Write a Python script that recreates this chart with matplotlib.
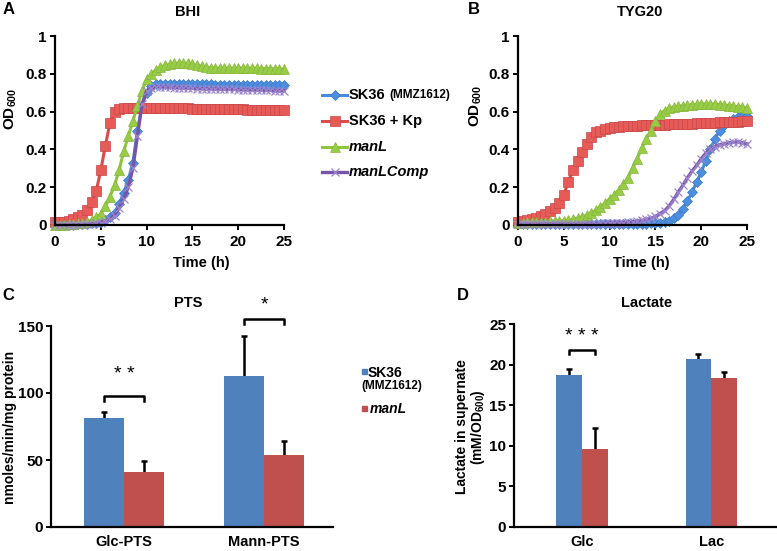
import matplotlib
matplotlib.use("Agg")
import matplotlib.pyplot as plt
import numpy as np
from matplotlib.lines import Line2D
from matplotlib.patches import Rectangle

plt.rcParams['font.family'] = ['Liberation Sans', 'DejaVu Sans']
plt.rcParams['font.weight'] = 'bold'
plt.rcParams['mathtext.fontset'] = 'custom'
plt.rcParams['mathtext.bf'] = 'Liberation Sans:bold'
plt.rcParams['mathtext.rm'] = 'Liberation Sans:bold'

W, H = 777, 551

# growth curves, one reading every 0.5 h
time_h = np.arange(0, 25.5, 0.5)

bhi_sk36 = [0.000, 0.000, 0.000, 0.001, 0.002, 0.003, 0.004, 0.006, 0.008, 0.012,
            0.018, 0.028, 0.042, 0.065, 0.110, 0.170, 0.240, 0.330, 0.500, 0.630,
            0.700, 0.735, 0.745, 0.746, 0.746, 0.746, 0.745, 0.745, 0.745, 0.745,
            0.745, 0.744, 0.744, 0.744, 0.744, 0.743, 0.743, 0.743, 0.743, 0.742,
            0.742, 0.742, 0.742, 0.741, 0.741, 0.741, 0.741, 0.740, 0.740, 0.740,
            0.740]
bhi_kp = [0.015, 0.015, 0.018, 0.022, 0.030, 0.040, 0.055, 0.080, 0.120, 0.180,
          0.290, 0.420, 0.540, 0.600, 0.615, 0.618, 0.620, 0.620, 0.620, 0.620,
          0.620, 0.620, 0.620, 0.619, 0.619, 0.618, 0.618, 0.618, 0.617, 0.617,
          0.616, 0.616, 0.615, 0.615, 0.615, 0.614, 0.614, 0.613, 0.613, 0.612,
          0.612, 0.612, 0.611, 0.611, 0.610, 0.610, 0.610, 0.609, 0.609, 0.608,
          0.608]
bhi_manl = [0.000, 0.000, 0.002, 0.003, 0.005, 0.008, 0.012, 0.018, 0.026, 0.040,
            0.060, 0.100, 0.150, 0.210, 0.290, 0.390, 0.470, 0.550, 0.630, 0.710,
            0.770, 0.800, 0.820, 0.835, 0.845, 0.850, 0.855, 0.857, 0.857, 0.855,
            0.850, 0.845, 0.840, 0.835, 0.832, 0.830, 0.830, 0.830, 0.830, 0.830,
            0.830, 0.830, 0.830, 0.830, 0.829, 0.828, 0.828, 0.827, 0.826, 0.825,
            0.824]
bhi_comp = [0.000, 0.000, 0.000, 0.000, 0.001, 0.002, 0.003, 0.004, 0.006, 0.009,
            0.013, 0.020, 0.030, 0.050, 0.090, 0.140, 0.200, 0.300, 0.470, 0.640,
            0.710, 0.725, 0.730, 0.730, 0.729, 0.728, 0.727, 0.726, 0.725, 0.724,
            0.723, 0.722, 0.722, 0.721, 0.720, 0.720, 0.719, 0.718, 0.718, 0.717,
            0.716, 0.716, 0.715, 0.714, 0.714, 0.713, 0.712, 0.712, 0.711, 0.710,
            0.710]

tyg_sk36 = [0.005, 0.005, 0.005, 0.005, 0.005, 0.005, 0.005, 0.005, 0.005, 0.005,
            0.005, 0.005, 0.005, 0.005, 0.005, 0.005, 0.005, 0.005, 0.005, 0.005,
            0.005, 0.006, 0.006, 0.006, 0.006, 0.006, 0.006, 0.007, 0.007, 0.008,
            0.008, 0.010, 0.014, 0.022, 0.035, 0.055, 0.085, 0.125, 0.175, 0.225,
            0.280, 0.340, 0.400, 0.455, 0.500, 0.530, 0.550, 0.562, 0.570, 0.575,
            0.578]
tyg_kp = [0.015, 0.020, 0.025, 0.030, 0.038, 0.048, 0.060, 0.075, 0.092, 0.115,
          0.160, 0.230, 0.290, 0.340, 0.385, 0.430, 0.465, 0.490, 0.500, 0.507,
          0.512, 0.516, 0.520, 0.522, 0.524, 0.525, 0.526, 0.527, 0.528, 0.529,
          0.530, 0.530, 0.531, 0.532, 0.533, 0.534, 0.535, 0.536, 0.537, 0.538,
          0.539, 0.540, 0.541, 0.542, 0.543, 0.544, 0.545, 0.546, 0.547, 0.548,
          0.550]
tyg_manl = [0.012, 0.013, 0.014, 0.015, 0.016, 0.017, 0.018, 0.019, 0.020, 0.021,
            0.023, 0.026, 0.030, 0.036, 0.043, 0.052, 0.063, 0.078, 0.095, 0.115,
            0.138, 0.160, 0.185, 0.215, 0.250, 0.300, 0.350, 0.405, 0.455, 0.500,
            0.550, 0.585, 0.605, 0.617, 0.624, 0.628, 0.631, 0.634, 0.636, 0.638,
            0.640, 0.640, 0.640, 0.639, 0.637, 0.635, 0.632, 0.629, 0.626, 0.623,
            0.620]
tyg_comp = [0.005, 0.005, 0.005, 0.005, 0.005, 0.005, 0.005, 0.005, 0.005, 0.005,
            0.005, 0.005, 0.005, 0.005, 0.005, 0.005, 0.005, 0.006, 0.008, 0.009,
            0.010, 0.011, 0.012, 0.013, 0.015, 0.017, 0.020, 0.024, 0.030, 0.035,
            0.045, 0.060, 0.075, 0.100, 0.135, 0.175, 0.210, 0.250, 0.285, 0.315,
            0.350, 0.380, 0.400, 0.415, 0.425, 0.430, 0.435, 0.438, 0.440, 0.435,
            0.430]

series_names = ['SK36', 'SK36 + Kp', 'manL', 'manLComp']

# PTS activity (nmoles/min/mg protein)
pts_cats = ['Glc-PTS', 'Mann-PTS']
pts_sk36 = [81, 112.5]
pts_sk36_err = [4.5, 30]
pts_manl = [41, 54]
pts_manl_err = [8.3, 10]
pts_stars = ['* *', '*']

# lactate in supernate (mM/OD600)
lac_cats = ['Glc', 'Lac']
lac_sk36 = [18.7, 20.65]
lac_sk36_err = [0.75, 0.7]
lac_manl = [9.55, 18.3]
lac_manl_err = [2.7, 0.8]
lac_stars = ['* * *']

styles = [
    dict(color='#4A8AD8', marker='D', ms=4.8, mfc='#4C8EDF', mec='#3D79C6', mew=0.5, lw=2.2),
    dict(color='#DE4B4B', marker='s', ms=7, mfc='#E65A58', mec='#C94747', mew=0.5, lw=2.2),
    dict(color='#8FC63F', marker='^', ms=7, mfc='#98CC46', mec='#84B83A', mew=0.5, lw=2.2),
    dict(color='#7755A6', marker='x', ms=6, mfc='none', mec='#9D86CF', mew=0.9, lw=2.4),
]
blue_bar = '#4F81BD'
red_bar = '#C0504D'


def box(l, t, r, b):
    return [l / W, 1 - b / H, (r - l) / W, (b - t) / H]


def ftext(x, y, s, **kw):
    return fig.text(x / W, 1 - y / H, s, **kw)


def style_axes(ax):
    for side in ['top', 'right']:
        ax.spines[side].set_visible(False)
    for side in ['left', 'bottom']:
        ax.spines[side].set_linewidth(1.6)
    ax.tick_params(direction='out', width=1.4, length=3.5, labelsize=11)


fig = plt.figure(figsize=(W / 100, H / 100), dpi=100)

curve_sets = [
    ([bhi_sk36, bhi_kp, bhi_manl, bhi_comp], box(55, 36, 284, 225)),
    ([tyg_sk36, tyg_kp, tyg_manl, tyg_comp], box(518, 36, 747, 225)),
]
for curves, pos in curve_sets:
    ax = fig.add_axes(pos)
    for vals, st in zip(curves, styles):
        ax.plot(time_h, vals, clip_on=False, **st)
    ax.set_xlim(0, 25)
    ax.set_ylim(0, 1)
    ax.set_xticks([0, 5, 10, 15, 20, 25])
    ax.set_yticks([0, 0.2, 0.4, 0.6, 0.8, 1])
    ax.set_yticklabels(['0', '0.2', '0.4', '0.6', '0.8', '1'])
    style_axes(ax)
    ax.tick_params(axis='x', pad=4)
    ax.tick_params(axis='y', pad=2.5)

# legend of the growth curves
rows_y = [95, 121, 147, 172]
legend_texts = []
for i, (name, st) in enumerate(zip(series_names, styles)):
    fy = 1 - rows_y[i] / H
    fig.add_artist(Line2D([322 / W, 347 / W], [fy, fy], color=st['color'], lw=st['lw'],
                          transform=fig.transFigure))
    fig.add_artist(Line2D([334.5 / W], [fy], linestyle='none', marker=st['marker'],
                          ms=st['ms'], mfc=st['mfc'], mec=st['mec'], mew=st['mew'],
                          transform=fig.transFigure))
    italic = 'italic' if name.startswith('manL') else 'normal'
    legend_texts.append(ftext(349, rows_y[i], name, fontsize=10.5, style=italic,
                              va='center', ha='left'))

ftext(3, 9, 'A', fontsize=12, va='center', ha='left')
ftext(468, 9, 'B', fontsize=12, va='center', ha='left')
ftext(188, 12, 'BHI', fontsize=10.5, va='center', ha='center')
ftext(640, 12, 'TYG20', fontsize=10.5, va='center', ha='center')
for x in [201, 641]:
    ftext(x, 263, 'Time (h)', fontsize=10.5, va='center', ha='center')
ftext(11, 109, r'$\mathbf{OD_{600}}$', fontsize=11, rotation=90, va='center', ha='center')
ftext(476, 106, r'$\mathbf{OD_{600}}$', fontsize=11, rotation=90, va='center', ha='center')

# bar panels
bar_sets = [
    (pts_cats, pts_sk36, pts_sk36_err, pts_manl, pts_manl_err, pts_stars,
     box(51, 326, 333, 527), 150, [0, 50, 100, 150], 0.286, (-0.521, 1.493),
     [(97.8, 94.3, 114), (155, 151.5, 166)]),
    (lac_cats, lac_sk36, lac_sk36_err, lac_manl, lac_manl_err, lac_stars,
     box(514, 324, 776, 527), 25, [0, 5, 10, 15, 20, 25], 0.2, (-0.527, 1.5),
     [(21.8, 21.3, 23.5)]),
]
for cats, b1, e1, b2, e2, stars, pos, ymax, yt, w, xl, brk in bar_sets:
    ax = fig.add_axes(pos)
    x = np.arange(len(cats))
    ax.bar(x - w / 2, b1, w, color=blue_bar, zorder=2)
    ax.bar(x + w / 2, b2, w, color=red_bar, zorder=2)
    # symmetric bars drawn behind the columns, so only the upper half shows
    ax.errorbar(x - w / 2, b1, yerr=e1, fmt='none', ecolor='black',
                elinewidth=1.8, capsize=2.4, capthick=1.8, zorder=1)
    ax.errorbar(x + w / 2, b2, yerr=e2, fmt='none', ecolor='black',
                elinewidth=1.8, capsize=2.4, capthick=1.8, zorder=1)
    for i, (s, (yb, yt_, ys)) in enumerate(zip(stars, brk)):
        ax.plot([i - w / 2, i - w / 2, i + w / 2, i + w / 2], [yt_, yb, yb, yt_],
                color='black', lw=1.8, clip_on=False)
        ax.text(i, ys, s, ha='center', va='center', fontsize=14, fontweight='normal')
    ax.set_xlim(*xl)
    ax.set_ylim(0, ymax)
    ax.set_yticks(yt)
    ax.set_xticks(x)
    ax.set_xticklabels(cats)
    style_axes(ax)
    ax.tick_params(axis='x', length=0, pad=6, labelsize=10.5)
    ax.tick_params(axis='y', pad=2)

ftext(2, 295, 'C', fontsize=12, va='center', ha='left')
ftext(457, 296, 'D', fontsize=12, va='center', ha='left')
ftext(188, 303, 'PTS', fontsize=10.5, va='center', ha='center')
ftext(647, 303, 'Lactate', fontsize=10.5, va='center', ha='center')
ftext(10, 427, 'nmoles/min/mg protein', fontsize=10, rotation=90, va='center', ha='center')
ftext(471, 427, 'Lactate in supernate\n' + r'(mM/OD$\mathbf{_{600}}$)', fontsize=10,
      rotation=90, va='center', ha='center', linespacing=1.05)

# legend of the bar panels
for yc, col in [(371.5, blue_bar), (408.5, red_bar)]:
    fig.add_artist(Rectangle((362 / W, 1 - (yc + 2.7) / H), 5.4 / W, 5.4 / H,
                             color=col, transform=fig.transFigure))
ftext(368, 373, 'SK36', fontsize=10, va='center', ha='left')
ftext(361, 386, '(MMZ1612)', fontsize=8.5, va='center', ha='left')
ftext(370, 409, 'manL', fontsize=10, style='italic', va='center', ha='left')

# strain number after the first legend entry, in a smaller size
fig.canvas.draw()
bb = legend_texts[0].get_window_extent()
ftext(bb.x1 + 4, rows_y[0], '(MMZ1612)', fontsize=8.5, va='center', ha='left')

fig.savefig('out.png', dpi=100)
